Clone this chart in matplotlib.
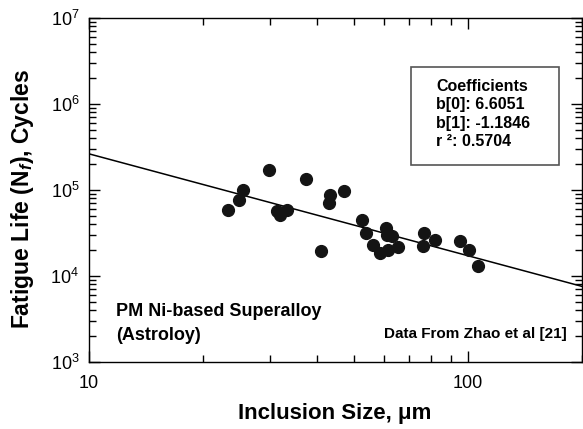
import numpy as np
import matplotlib
matplotlib.use('Agg')
import matplotlib.pyplot as plt
from matplotlib.patches import Rectangle
from matplotlib.ticker import LogLocator, NullFormatter, FuncFormatter

plt.rcParams['font.family'] = ['Liberation Sans', 'DejaVu Sans']
plt.rcParams['mathtext.fontset'] = 'custom'
plt.rcParams['mathtext.rm'] = 'Liberation Sans'
plt.rcParams['mathtext.it'] = 'Liberation Sans:italic'
plt.rcParams['mathtext.bf'] = 'Liberation Sans:bold'
plt.rcParams['mathtext.bfit'] = 'Liberation Sans:bold:italic'

# inclusion size (um) and fatigue life (cycles)
size_um = [23.3, 24.9, 25.5, 29.9, 31.3, 32.0, 33.4, 37.3, 40.9, 43.2, 43.1,
           47.1, 52.6, 53.9, 56.3, 58.7, 60.6, 61.0, 63.1, 61.6, 65.4, 76.4,
           76.2, 82.0, 95.4, 100.6, 106.5]
life = [5.82e4, 7.6e4, 1.01e5, 1.72e5, 5.66e4, 5.09e4, 5.82e4, 1.35e5, 1.93e4,
        8.68e4, 7.09e4, 9.66e4, 4.5e4, 3.2e4, 2.28e4, 1.83e4, 3.63e4, 2.96e4,
        2.9e4, 2.02e4, 2.16e4, 3.18e4, 2.26e4, 2.59e4, 2.54e4, 2.02e4, 1.32e4]

b0 = 6.6051
b1 = -1.1846
r2 = 0.5704

W, H = 583, 429
fig = plt.figure(figsize=(W / 100, H / 100), dpi=100)
ax = fig.add_axes([89 / W, 1 - 362 / H, 493 / W, 344 / H])

def fx(px):
    return px / W

def fy(py):
    return 1 - py / H

xfit = np.array([10, 200])
ax.plot(xfit, 10 ** (b0 + b1 * np.log10(xfit)), color='black', lw=1.1)
ax.plot(size_um, life, 'o', color='#141414', ms=8.5)

ax.set_xscale('log')
ax.set_yscale('log')
ax.set_xlim(10, 200)
ax.set_ylim(1e3, 1e7)
ax.yaxis.set_minor_locator(LogLocator(base=10, subs=np.arange(2, 10), numticks=20))
ax.xaxis.set_minor_locator(LogLocator(base=10, subs=np.arange(2, 10), numticks=20))
ax.yaxis.set_minor_formatter(NullFormatter())
ax.xaxis.set_minor_formatter(NullFormatter())
ax.xaxis.set_major_formatter(FuncFormatter(lambda v, p: '%d' % round(v)))
ax.tick_params(which='both', direction='in', top=True, right=True, labelsize=13, width=1)
ax.tick_params(which='major', length=8)
ax.tick_params(axis='x', which='major', pad=9)
ax.tick_params(axis='y', which='major', pad=7)
ax.tick_params(which='minor', length=5)
for s in ax.spines.values():
    s.set_linewidth(1)

fig.text(fx(335), fy(413), 'Inclusion Size, \u03bcm', fontsize=16, fontweight='bold',
         ha='center', va='center')
fig.text(fx(23), fy(199), 'Fatigue Life (N$_\\mathbfit{f}$), Cycles', fontsize=16.5,
         fontweight='bold', ha='center', va='center', rotation=90)

fig.text(fx(116), fy(311.7), 'PM Ni-based Superalloy', fontsize=13, fontweight='bold',
         ha='left', va='center')
fig.text(fx(116), fy(335), '(Astroloy)', fontsize=13, fontweight='bold',
         ha='left', va='center')
fig.text(fx(567), fy(334), 'Data From Zhao et al [21]', fontsize=11, fontweight='bold',
         ha='right', va='center')

fig.patches.append(Rectangle((fx(411), fy(165)), (559 - 411) / W, (165 - 67) / H,
                             transform=fig.transFigure, facecolor='white',
                             edgecolor='#555555', lw=1.2, zorder=5))
coef_lines = ['Coefficients', 'b[0]: %.4f' % b0, 'b[1]: %.4f' % b1, 'r \u00b2: %.4f' % r2]
for i, line in enumerate(coef_lines):
    fig.text(fx(436), fy(86.7 + i * 18.3), line, fontsize=11.5, fontweight='bold',
             ha='left', va='center', zorder=6)

fig.savefig('out.png', dpi=100)
